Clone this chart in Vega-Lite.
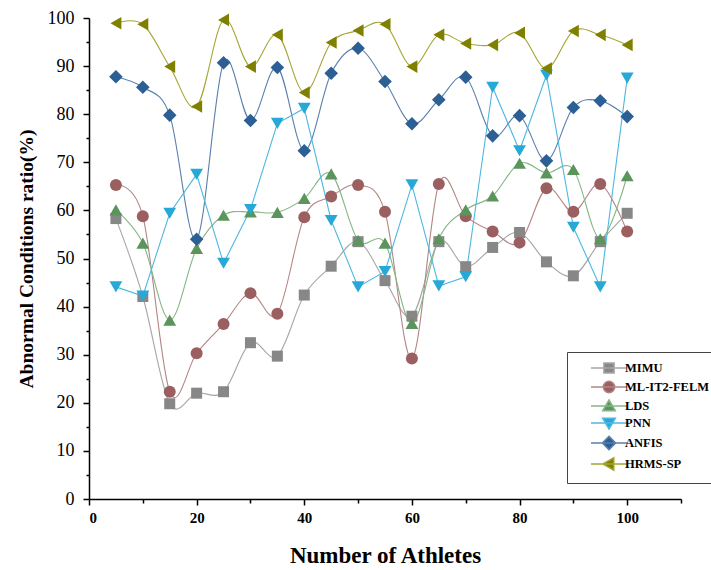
{
  "$schema": "https://vega.github.io/schema/vega-lite/v6.json",
  "width": 592,
  "height": 481,
  "autosize": {"type": "none"},
  "padding": {"left": 89, "top": 18, "right": 30, "bottom": 71},
  "config": {"view": {"stroke": null}, "font": "Liberation Serif"},
  "data": {"values": [
    {"x":5,"series":"MIMU","y":58.3},{"x":10,"series":"MIMU","y":42.1},{"x":15,"series":"MIMU","y":19.8},{"x":20,"series":"MIMU","y":22.0},{"x":25,"series":"MIMU","y":22.3},{"x":30,"series":"MIMU","y":32.5},{"x":35,"series":"MIMU","y":29.7},{"x":40,"series":"MIMU","y":42.4},{"x":45,"series":"MIMU","y":48.4},{"x":50,"series":"MIMU","y":53.5},{"x":55,"series":"MIMU","y":45.4},{"x":60,"series":"MIMU","y":38.0},{"x":65,"series":"MIMU","y":53.5},{"x":70,"series":"MIMU","y":48.3},{"x":75,"series":"MIMU","y":52.3},{"x":80,"series":"MIMU","y":55.4},{"x":85,"series":"MIMU","y":49.3},{"x":90,"series":"MIMU","y":46.4},{"x":95,"series":"MIMU","y":53.5},{"x":100,"series":"MIMU","y":59.4},
    {"x":5,"series":"ML-IT2-FELM","y":65.3},{"x":10,"series":"ML-IT2-FELM","y":58.8},{"x":15,"series":"ML-IT2-FELM","y":22.3},{"x":20,"series":"ML-IT2-FELM","y":30.3},{"x":25,"series":"ML-IT2-FELM","y":36.4},{"x":30,"series":"ML-IT2-FELM","y":42.8},{"x":35,"series":"ML-IT2-FELM","y":38.5},{"x":40,"series":"ML-IT2-FELM","y":58.6},{"x":45,"series":"ML-IT2-FELM","y":62.9},{"x":50,"series":"ML-IT2-FELM","y":65.3},{"x":55,"series":"ML-IT2-FELM","y":59.7},{"x":60,"series":"ML-IT2-FELM","y":29.2},{"x":65,"series":"ML-IT2-FELM","y":65.5},{"x":70,"series":"ML-IT2-FELM","y":58.8},{"x":75,"series":"ML-IT2-FELM","y":55.6},{"x":80,"series":"ML-IT2-FELM","y":53.3},{"x":85,"series":"ML-IT2-FELM","y":64.6},{"x":90,"series":"ML-IT2-FELM","y":59.7},{"x":95,"series":"ML-IT2-FELM","y":65.5},{"x":100,"series":"ML-IT2-FELM","y":55.6},
    {"x":5,"series":"LDS","y":60.1},{"x":10,"series":"LDS","y":53.2},{"x":15,"series":"LDS","y":37.2},{"x":20,"series":"LDS","y":52.1},{"x":25,"series":"LDS","y":59.0},{"x":30,"series":"LDS","y":59.7},{"x":35,"series":"LDS","y":59.6},{"x":40,"series":"LDS","y":62.5},{"x":45,"series":"LDS","y":67.6},{"x":50,"series":"LDS","y":53.8},{"x":55,"series":"LDS","y":53.2},{"x":60,"series":"LDS","y":36.5},{"x":65,"series":"LDS","y":54.1},{"x":70,"series":"LDS","y":60.1},{"x":75,"series":"LDS","y":63.0},{"x":80,"series":"LDS","y":69.8},{"x":85,"series":"LDS","y":67.8},{"x":90,"series":"LDS","y":68.5},{"x":95,"series":"LDS","y":54.1},{"x":100,"series":"LDS","y":67.2},
    {"x":5,"series":"PNN","y":44.1},{"x":10,"series":"PNN","y":42.2},{"x":15,"series":"PNN","y":59.4},{"x":20,"series":"PNN","y":67.5},{"x":25,"series":"PNN","y":49.0},{"x":30,"series":"PNN","y":60.2},{"x":35,"series":"PNN","y":78.1},{"x":40,"series":"PNN","y":81.2},{"x":45,"series":"PNN","y":57.9},{"x":50,"series":"PNN","y":44.1},{"x":55,"series":"PNN","y":47.3},{"x":60,"series":"PNN","y":65.3},{"x":65,"series":"PNN","y":44.3},{"x":70,"series":"PNN","y":46.2},{"x":75,"series":"PNN","y":85.6},{"x":80,"series":"PNN","y":72.4},{"x":85,"series":"PNN","y":88.1},{"x":90,"series":"PNN","y":56.5},{"x":95,"series":"PNN","y":44.1},{"x":100,"series":"PNN","y":87.5},
    {"x":5,"series":"ANFIS","y":87.8},{"x":10,"series":"ANFIS","y":85.6},{"x":15,"series":"ANFIS","y":79.8},{"x":20,"series":"ANFIS","y":54.0},{"x":25,"series":"ANFIS","y":90.7},{"x":30,"series":"ANFIS","y":78.7},{"x":35,"series":"ANFIS","y":89.7},{"x":40,"series":"ANFIS","y":72.4},{"x":45,"series":"ANFIS","y":88.5},{"x":50,"series":"ANFIS","y":93.7},{"x":55,"series":"ANFIS","y":86.8},{"x":60,"series":"ANFIS","y":78.0},{"x":65,"series":"ANFIS","y":83.0},{"x":70,"series":"ANFIS","y":87.7},{"x":75,"series":"ANFIS","y":75.5},{"x":80,"series":"ANFIS","y":79.7},{"x":85,"series":"ANFIS","y":70.3},{"x":90,"series":"ANFIS","y":81.4},{"x":95,"series":"ANFIS","y":82.8},{"x":100,"series":"ANFIS","y":79.5},
    {"x":5,"series":"HRMS-SP","y":98.9},{"x":10,"series":"HRMS-SP","y":98.7},{"x":15,"series":"HRMS-SP","y":89.9},{"x":20,"series":"HRMS-SP","y":81.6},{"x":25,"series":"HRMS-SP","y":99.6},{"x":30,"series":"HRMS-SP","y":89.9},{"x":35,"series":"HRMS-SP","y":96.5},{"x":40,"series":"HRMS-SP","y":84.5},{"x":45,"series":"HRMS-SP","y":94.9},{"x":50,"series":"HRMS-SP","y":97.4},{"x":55,"series":"HRMS-SP","y":98.7},{"x":60,"series":"HRMS-SP","y":89.9},{"x":65,"series":"HRMS-SP","y":96.5},{"x":70,"series":"HRMS-SP","y":94.7},{"x":75,"series":"HRMS-SP","y":94.4},{"x":80,"series":"HRMS-SP","y":96.9},{"x":85,"series":"HRMS-SP","y":89.5},{"x":90,"series":"HRMS-SP","y":97.3},{"x":95,"series":"HRMS-SP","y":96.5},{"x":100,"series":"HRMS-SP","y":94.4}
  ]},
  "encoding": {
    "x": {
      "field": "x", "type": "quantitative",
      "scale": {"domain": [0, 110], "nice": false, "zero": false},
      "axis": {
        "title": "Number of Athletes",
        "values": [0,10,20,30,40,50,60,70,80,90,100,110],
        "labelExpr": "(datum.value % 20 == 0 && datum.value <= 100) ? datum.label : ''",
        "tickSize": {"condition": {"test": "datum.value % 20 != 0", "value": 4}, "value": 6},
        "grid": false,
        "domainColor": "black", "domainWidth": 1.5,
        "tickColor": "black", "tickWidth": 1.5,
        "labelFont": "Liberation Serif", "labelFontWeight": "bold", "labelFontSize": 15, "labelColor": "black", "labelPadding": 5,
        "titleFont": "Liberation Serif", "titleFontWeight": "bold", "titleFontSize": 23, "titleColor": "black", "titlePadding": 19
      }
    },
    "y": {
      "field": "y", "type": "quantitative",
      "scale": {"domain": [0, 100], "nice": false},
      "axis": {
        "title": "Abnormal Conditions ratio(%)",
        "values": [0,5,10,15,20,25,30,35,40,45,50,55,60,65,70,75,80,85,90,95,100],
        "labelExpr": "datum.value % 10 == 0 ? datum.label : ''",
        "tickSize": {"condition": {"test": "datum.value % 10 != 0", "value": 3}, "value": 6},
        "grid": false,
        "domainColor": "black", "domainWidth": 1.5,
        "tickColor": "black", "tickWidth": 1.5,
        "labelFont": "Liberation Serif", "labelFontWeight": "normal", "labelFontSize": 18, "labelColor": "black", "labelPadding": 9,
        "titleFont": "Liberation Serif", "titleFontWeight": "bold", "titleFontSize": 19.5, "titleColor": "black", "titlePadding": 11
      }
    }
  },
  "layer": [
    {
      "mark": {"type": "point", "filled": true, "opacity": 0},
      "encoding": {
        "fill": {"field": "series", "type": "nominal",
          "scale": {"domain": ["MIMU","ML-IT2-FELM","LDS","PNN","ANFIS","HRMS-SP"], "range": ["#878787","#9c5f5f","#5c955c","#27a9d7","#2c5f94","#808000"]},
          "legend": {"orient": "none", "legendX": 478, "legendY": 334, "title": null}},
        "shape": {"field": "series", "type": "nominal",
          "scale": {"domain": ["MIMU","ML-IT2-FELM","LDS","PNN","ANFIS","HRMS-SP"], "range": [
            "M-3,0H3M-0.85,-0.85H0.85V0.85H-0.85Z",
            "M-3,0H3M-0.95,0A0.95,0.95,0,1,0,0.95,0A0.95,0.95,0,1,0,-0.95,0Z",
            "M-3,0H3M0,-1L1.05,0.8H-1.05Z",
            "M-3,0H3M0,1L1.05,-0.8H-1.05Z",
            "M-3,0H3M0,-1.1L1.1,0L0,1.1L-1.1,0Z",
            "M-3,0H3M-1,0L0.8,-1.05V1.05Z"
          ]},
          "legend": {
            "orient": "none", "legendX": 478, "legendY": 334, "title": null,
            "padding": 9, "strokeColor": "#444444", "fillColor": "white",
            "symbolSize": 144, "symbolOffset": 26, "symbolOpacity": 1,
            "labelFont": "Liberation Serif", "labelFontWeight": "bold", "labelFontSize": 12.5, "labelColor": "black",
            "labelOffset": 9, "rowPadding": 1,
            "encode": {"symbols": {"update": {
              "opacity": {"value": 1},
              "strokeWidth": {"value": 1.2},
              "stroke": {"signal": "datum.value === 'MIMU' ? '#a6a6a6' : datum.value === 'ML-IT2-FELM' ? '#b38585' : datum.value === 'LDS' ? '#86b586' : datum.value === 'PNN' ? '#4db8e0' : datum.value === 'ANFIS' ? '#5a7fab' : '#a5a535'"}
            }}}
          }}
      }
    },
    {
      "transform": [{"filter": "datum.series !== 'PNN'"}],
      "mark": {"type": "line", "interpolate": "cardinal", "strokeWidth": 1.1},
      "encoding": {
        "color": {"field": "series", "type": "nominal",
          "scale": {"domain": ["MIMU","ML-IT2-FELM","LDS","PNN","ANFIS","HRMS-SP"], "range": ["#a6a6a6","#b38585","#86b586","#4db8e0","#5a7fab","#a5a535"]},
          "legend": null}
      }
    },
    {
      "transform": [{"filter": "datum.series === 'PNN'"}],
      "mark": {"type": "line", "interpolate": "linear", "strokeWidth": 1.1},
      "encoding": {
        "color": {"field": "series", "type": "nominal",
          "scale": {"domain": ["MIMU","ML-IT2-FELM","LDS","PNN","ANFIS","HRMS-SP"], "range": ["#a6a6a6","#b38585","#86b586","#4db8e0","#5a7fab","#a5a535"]},
          "legend": null}
      }
    },
    {"transform": [{"filter": "datum.series === 'MIMU'"}], "mark": {"type": "point", "filled": true, "size": 121, "opacity": 1, "shape": "square", "color": "#878787"}},
    {"transform": [{"filter": "datum.series === 'ML-IT2-FELM'"}], "mark": {"type": "point", "filled": true, "size": 144, "opacity": 1, "shape": "circle", "color": "#9c5f5f"}},
    {"transform": [{"filter": "datum.series === 'LDS'"}], "mark": {"type": "point", "filled": true, "size": 165, "opacity": 1, "shape": "triangle-up", "color": "#5c955c"}},
    {"transform": [{"filter": "datum.series === 'PNN'"}], "mark": {"type": "point", "filled": true, "size": 165, "opacity": 1, "shape": "triangle-down", "color": "#27a9d7"}},
    {"transform": [{"filter": "datum.series === 'ANFIS'"}], "mark": {"type": "point", "filled": true, "size": 185, "opacity": 1, "shape": "diamond", "color": "#2c5f94"}},
    {"transform": [{"filter": "datum.series === 'HRMS-SP'"}], "mark": {"type": "point", "filled": true, "size": 160, "opacity": 1, "shape": "triangle-left", "color": "#808000"}}
  ]
}
